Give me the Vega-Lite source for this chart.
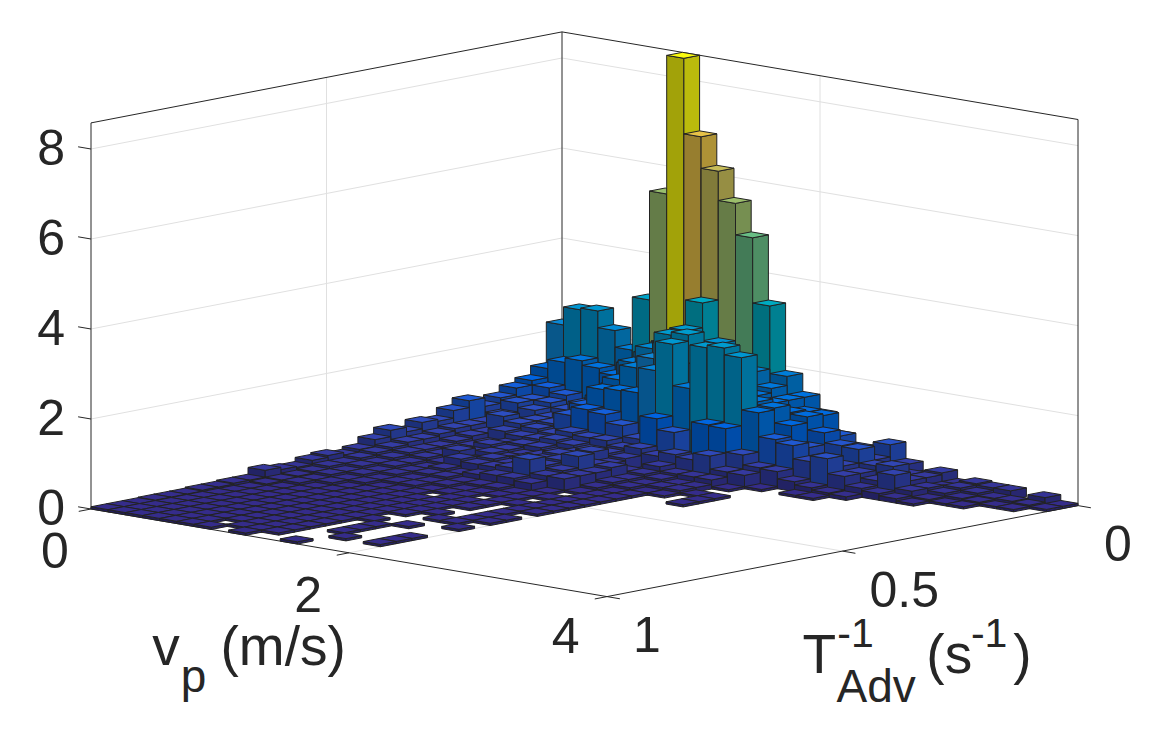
{
  "$schema": "https://vega.github.io/schema/vega-lite/v6.json",
  "width": 1153,
  "height": 731,
  "padding": 0,
  "autosize": "none",
  "background": "white",
  "config": {"view": {"stroke": null}},
  "layer": [
    {
      "data": {"values": [
        {"vp":0,"T":1,"z":0,"vp2":0,"T2":0,"z2":0},{"vp":0,"T":0,"z":0,"vp2":4,"T2":0,"z2":0},
        {"vp":0,"T":1,"z":2,"vp2":0,"T2":0,"z2":2},{"vp":0,"T":0,"z":2,"vp2":4,"T2":0,"z2":2},
        {"vp":0,"T":1,"z":4,"vp2":0,"T2":0,"z2":4},{"vp":0,"T":0,"z":4,"vp2":4,"T2":0,"z2":4},
        {"vp":0,"T":1,"z":6,"vp2":0,"T2":0,"z2":6},{"vp":0,"T":0,"z":6,"vp2":4,"T2":0,"z2":6},
        {"vp":0,"T":1,"z":8,"vp2":0,"T2":0,"z2":8},{"vp":0,"T":0,"z":8,"vp2":4,"T2":0,"z2":8},
        {"vp":0,"T":0.5,"z":0,"vp2":0,"T2":0.5,"z2":8.58},{"vp":2,"T":0,"z":0,"vp2":2,"T2":0,"z2":8.58},
        {"vp":2,"T":0,"z":0,"vp2":2,"T2":1,"z2":0},{"vp":0,"T":0.5,"z":0,"vp2":4,"T2":0.5,"z2":0}
      ]},
      "transform": [
        {"calculate": "562+129*datum.vp-471*datum.T", "as": "sx"},
        {"calculate": "418+21.9*datum.vp+91*datum.T-45*datum.z", "as": "sy"},
        {"calculate": "562+129*datum.vp2-471*datum.T2", "as": "sx2"},
        {"calculate": "418+21.9*datum.vp2+91*datum.T2-45*datum.z2", "as": "sy2"}
      ],
      "mark": {"type": "rule", "color": "#e0e0e0", "strokeWidth": 1},
      "encoding": {
        "x": {"field": "sx", "type": "quantitative", "scale": {"domain": [0, 1153], "nice": false}, "axis": null},
        "y": {"field": "sy", "type": "quantitative", "scale": {"domain": [731, 0], "nice": false}, "axis": null},
        "x2": {"field": "sx2"},
        "y2": {"field": "sy2"}
      }
    },
    {
      "data": {"values": [
        {"vp":0,"T":1,"z":8.58,"vp2":0,"T2":0,"z2":8.58},{"vp":0,"T":0,"z":8.58,"vp2":4,"T2":0,"z2":8.58},
        {"vp":0,"T":1,"z":0,"vp2":0,"T2":1,"z2":8.58},{"vp":0,"T":0,"z":0,"vp2":0,"T2":0,"z2":8.58},{"vp":4,"T":0,"z":0,"vp2":4,"T2":0,"z2":8.58},
        {"vp":0,"T":1,"z":0,"vp2":4,"T2":1,"z2":0},{"vp":4,"T":1,"z":0,"vp2":4,"T2":0,"z2":0},
        {"vp":-0.1,"T":1,"z":0,"vp2":0,"T2":1,"z2":0},{"vp":-0.1,"T":1,"z":2,"vp2":0,"T2":1,"z2":2},{"vp":-0.1,"T":1,"z":4,"vp2":0,"T2":1,"z2":4},{"vp":-0.1,"T":1,"z":6,"vp2":0,"T2":1,"z2":6},{"vp":-0.1,"T":1,"z":8,"vp2":0,"T2":1,"z2":8},
        {"vp":0,"T":1,"z":0,"vp2":0,"T2":1.026,"z2":0},{"vp":2,"T":1,"z":0,"vp2":2,"T2":1.026,"z2":0},{"vp":4,"T":1,"z":0,"vp2":4,"T2":1.026,"z2":0},
        {"vp":4,"T":1,"z":0,"vp2":4.1,"T2":1,"z2":0},{"vp":4,"T":0.5,"z":0,"vp2":4.1,"T2":0.5,"z2":0},{"vp":4,"T":0,"z":0,"vp2":4.1,"T2":0,"z2":0}
      ]},
      "transform": [
        {"calculate": "562+129*datum.vp-471*datum.T", "as": "sx"},
        {"calculate": "418+21.9*datum.vp+91*datum.T-45*datum.z", "as": "sy"},
        {"calculate": "562+129*datum.vp2-471*datum.T2", "as": "sx2"},
        {"calculate": "418+21.9*datum.vp2+91*datum.T2-45*datum.z2", "as": "sy2"}
      ],
      "mark": {"type": "rule", "color": "#262626", "strokeWidth": 1},
      "encoding": {
        "x": {"field": "sx", "type": "quantitative"},
        "y": {"field": "sy", "type": "quantitative"},
        "x2": {"field": "sx2"},
        "y2": {"field": "sy2"}
      }
    },
    {
      "data": {"values": [
        {"i":0,"j":0,"h":2.2},{"i":1,"j":0,"h":2.6},{"i":2,"j":0,"h":2.64},{"i":3,"j":0,"h":2.27},{"i":4,"j":0,"h":1.9},{"i":5,"j":0,"h":3.08},{"i":6,"j":0,"h":5.5},{"i":7,"j":0,"h":8.58},{"i":8,"j":0,"h":6.9},{"i":9,"j":0,"h":6.2},{"i":10,"j":0,"h":5.55},{"i":11,"j":0,"h":4.85},{"i":12,"j":0,"h":3.4},{"i":13,"j":0,"h":1.9},{"i":14,"j":0,"h":1.5},{"i":15,"j":0,"h":1.18},{"i":16,"j":0,"h":0.77},{"i":17,"j":0,"h":0.5},{"i":18,"j":0,"h":0.4},{"i":19,"j":0,"h":0.77},{"i":20,"j":0,"h":0.4},{"i":21,"j":0,"h":0.2},{"i":22,"j":0,"h":0.34},{"i":23,"j":0,"h":0.15},{"i":24,"j":0,"h":0.23},{"i":25,"j":0,"h":0.2},{"i":26,"j":0,"h":0.2},{"i":28,"j":0,"h":0.18},{"i":29,"j":0,"h":0.05},
        {"i":0,"j":1,"h":1.3},{"i":1,"j":1,"h":1.5},{"i":2,"j":1,"h":1.6},{"i":3,"j":1,"h":1.5},{"i":4,"j":1,"h":1.4},{"i":5,"j":1,"h":1.7},{"i":6,"j":1,"h":2.0},{"i":7,"j":1,"h":2.3},{"i":8,"j":1,"h":2.6},{"i":9,"j":1,"h":3.34},{"i":10,"j":1,"h":2.5},{"i":11,"j":1,"h":2.2},{"i":12,"j":1,"h":2.0},{"i":13,"j":1,"h":1.7},{"i":14,"j":1,"h":1.5},{"i":15,"j":1,"h":1.3},{"i":16,"j":1,"h":1.29},{"i":17,"j":1,"h":0.9},{"i":18,"j":1,"h":0.7},{"i":19,"j":1,"h":0.5},{"i":20,"j":1,"h":0.4},{"i":21,"j":1,"h":0.3},{"i":22,"j":1,"h":0.3},{"i":23,"j":1,"h":0.15},{"i":24,"j":1,"h":0.2},{"i":25,"j":1,"h":0.15},{"i":26,"j":1,"h":0.1},{"i":27,"j":1,"h":0.1},{"i":28,"j":1,"h":0.08},{"i":29,"j":1,"h":0.05},
        {"i":0,"j":2,"h":1.1},{"i":1,"j":2,"h":1.0},{"i":2,"j":2,"h":0.9},{"i":3,"j":2,"h":0.7},{"i":4,"j":2,"h":0.9},{"i":5,"j":2,"h":1.3},{"i":6,"j":2,"h":1.88},{"i":7,"j":2,"h":2.26},{"i":8,"j":2,"h":2.4},{"i":9,"j":2,"h":2.79},{"i":10,"j":2,"h":2.3},{"i":11,"j":2,"h":2.0},{"i":12,"j":2,"h":1.9},{"i":13,"j":2,"h":1.6},{"i":14,"j":2,"h":1.5},{"i":15,"j":2,"h":1.36},{"i":16,"j":2,"h":1.33},{"i":17,"j":2,"h":1.04},{"i":18,"j":2,"h":0.82},{"i":19,"j":2,"h":0.8},{"i":20,"j":2,"h":0.5},{"i":21,"j":2,"h":0.55},{"i":22,"j":2,"h":0.3},{"i":23,"j":2,"h":0.2},{"i":24,"j":2,"h":0.15},{"i":25,"j":2,"h":0.1},{"i":26,"j":2,"h":0.08},{"i":27,"j":2,"h":0.05},{"i":28,"j":2,"h":0.05},
        {"i":0,"j":3,"h":1.0},{"i":1,"j":3,"h":0.8},{"i":2,"j":3,"h":0.8},{"i":3,"j":3,"h":0.7},{"i":4,"j":3,"h":0.9},{"i":5,"j":3,"h":1.1},{"i":6,"j":3,"h":1.57},{"i":7,"j":3,"h":1.9},{"i":8,"j":3,"h":2.17},{"i":9,"j":3,"h":2.76},{"i":10,"j":3,"h":2.83},{"i":11,"j":3,"h":2.2},{"i":12,"j":3,"h":2.0},{"i":13,"j":3,"h":1.8},{"i":14,"j":3,"h":1.6},{"i":15,"j":3,"h":1.53},{"i":16,"j":3,"h":1.2},{"i":17,"j":3,"h":0.78},{"i":18,"j":3,"h":0.6},{"i":19,"j":3,"h":0.5},{"i":20,"j":3,"h":0.4},{"i":21,"j":3,"h":0.3},{"i":22,"j":3,"h":0.49},{"i":23,"j":3,"h":0.2},{"i":24,"j":3,"h":0.08},{"i":25,"j":3,"h":0.05},{"i":26,"j":3,"h":0.05},
        {"i":0,"j":4,"h":0.85},{"i":1,"j":4,"h":0.8},{"i":2,"j":4,"h":0.7},{"i":3,"j":4,"h":0.6},{"i":4,"j":4,"h":0.7},{"i":5,"j":4,"h":1.0},{"i":6,"j":4,"h":1.42},{"i":7,"j":4,"h":1.46},{"i":8,"j":4,"h":1.48},{"i":9,"j":4,"h":2.04},{"i":10,"j":4,"h":2.69},{"i":11,"j":4,"h":1.77},{"i":12,"j":4,"h":2.74},{"i":13,"j":4,"h":2.8},{"i":14,"j":4,"h":2.65},{"i":15,"j":4,"h":1.49},{"i":16,"j":4,"h":0.96},{"i":17,"j":4,"h":0.89},{"i":18,"j":4,"h":0.6},{"i":19,"j":4,"h":0.73},{"i":20,"j":4,"h":0.4},{"i":21,"j":4,"h":0.2},{"i":22,"j":4,"h":0.15},{"i":23,"j":4,"h":0.1},{"i":24,"j":4,"h":0.05},
        {"i":0,"j":5,"h":0.73},{"i":1,"j":5,"h":0.6},{"i":2,"j":5,"h":0.5},{"i":3,"j":5,"h":0.6},{"i":4,"j":5,"h":0.6},{"i":5,"j":5,"h":0.85},{"i":6,"j":5,"h":1.04},{"i":7,"j":5,"h":1.0},{"i":8,"j":5,"h":0.82},{"i":9,"j":5,"h":0.58},{"i":10,"j":5,"h":1.1},{"i":11,"j":5,"h":0.86},{"i":12,"j":5,"h":0.37},{"i":13,"j":5,"h":1.16},{"i":14,"j":5,"h":1.14},{"i":15,"j":5,"h":0.62},{"i":16,"j":5,"h":0.4},{"i":17,"j":5,"h":0.38},{"i":18,"j":5,"h":0.22},{"i":19,"j":5,"h":0.15},{"i":20,"j":5,"h":0.1},{"i":21,"j":5,"h":0.08},
        {"i":0,"j":6,"h":0.92},{"i":1,"j":6,"h":0.5},{"i":2,"j":6,"h":0.7},{"i":3,"j":6,"h":0.6},{"i":4,"j":6,"h":0.55},{"i":5,"j":6,"h":0.5},{"i":6,"j":6,"h":0.6},{"i":7,"j":6,"h":0.55},{"i":8,"j":6,"h":0.55},{"i":9,"j":6,"h":0.45},{"i":10,"j":6,"h":0.5},{"i":11,"j":6,"h":0.4},{"i":12,"j":6,"h":0.5},{"i":13,"j":6,"h":0.45},{"i":14,"j":6,"h":0.6},{"i":15,"j":6,"h":0.31},{"i":16,"j":6,"h":0.3},{"i":17,"j":6,"h":0.05},{"i":19,"j":6,"h":0.05},{"i":20,"j":6,"h":0.05},
        {"i":0,"j":7,"h":0.77},{"i":1,"j":7,"h":0.5},{"i":2,"j":7,"h":0.4},{"i":3,"j":7,"h":0.5},{"i":4,"j":7,"h":0.45},{"i":5,"j":7,"h":0.45},{"i":6,"j":7,"h":0.5},{"i":7,"j":7,"h":0.45},{"i":8,"j":7,"h":0.4},{"i":9,"j":7,"h":0.4},{"i":10,"j":7,"h":0.35},{"i":11,"j":7,"h":0.1},{"i":12,"j":7,"h":0.3},{"i":13,"j":7,"h":0.2},{"i":14,"j":7,"h":0.2},{"i":15,"j":7,"h":0.2},{"i":16,"j":7,"h":0.05},
        {"i":0,"j":8,"h":0.6},{"i":1,"j":8,"h":0.5},{"i":2,"j":8,"h":0.4},{"i":3,"j":8,"h":0.3},{"i":4,"j":8,"h":0.35},{"i":5,"j":8,"h":0.4},{"i":6,"j":8,"h":0.4},{"i":7,"j":8,"h":0.35},{"i":8,"j":8,"h":0.4},{"i":9,"j":8,"h":0.5},{"i":10,"j":8,"h":0.3},{"i":11,"j":8,"h":0.2},{"i":12,"j":8,"h":0.2},{"i":13,"j":8,"h":0.15},{"i":14,"j":8,"h":0.1},{"i":15,"j":8,"h":0.1},
        {"i":0,"j":9,"h":0.64},{"i":1,"j":9,"h":0.45},{"i":2,"j":9,"h":0.35},{"i":3,"j":9,"h":0.3},{"i":4,"j":9,"h":0.4},{"i":5,"j":9,"h":0.35},{"i":6,"j":9,"h":0.3},{"i":7,"j":9,"h":0.35},{"i":8,"j":9,"h":0.45},{"i":9,"j":9,"h":0.35},{"i":10,"j":9,"h":0.35},{"i":11,"j":9,"h":0.35},{"i":12,"j":9,"h":0.15},{"i":13,"j":9,"h":0.1},{"i":14,"j":9,"h":0.1},{"i":15,"j":9,"h":0.1},{"i":16,"j":9,"h":0.05},{"i":17,"j":9,"h":0.05},
        {"i":0,"j":10,"h":0.5},{"i":1,"j":10,"h":0.4},{"i":2,"j":10,"h":0.3},{"i":3,"j":10,"h":0.3},{"i":4,"j":10,"h":0.3},{"i":5,"j":10,"h":0.35},{"i":6,"j":10,"h":0.3},{"i":7,"j":10,"h":0.35},{"i":8,"j":10,"h":0.4},{"i":9,"j":10,"h":0.45},{"i":10,"j":10,"h":0.6},{"i":11,"j":10,"h":0.3},{"i":12,"j":10,"h":0.15},{"i":13,"j":10,"h":0.1},{"i":14,"j":10,"h":0.05},{"i":15,"j":10,"h":0.05},{"i":17,"j":10,"h":0.05},
        {"i":0,"j":11,"h":0.6},{"i":1,"j":11,"h":0.4},{"i":2,"j":11,"h":0.3},{"i":3,"j":11,"h":0.25},{"i":4,"j":11,"h":0.4},{"i":5,"j":11,"h":0.25},{"i":6,"j":11,"h":0.35},{"i":7,"j":11,"h":0.3},{"i":8,"j":11,"h":0.35},{"i":9,"j":11,"h":0.4},{"i":10,"j":11,"h":0.35},{"i":11,"j":11,"h":0.3},{"i":12,"j":11,"h":0.1},{"i":13,"j":11,"h":0.05},{"i":14,"j":11,"h":0.05},{"i":17,"j":11,"h":0.05},
        {"i":0,"j":12,"h":0.46},{"i":1,"j":12,"h":0.35},{"i":2,"j":12,"h":0.3},{"i":3,"j":12,"h":0.25},{"i":4,"j":12,"h":0.2},{"i":5,"j":12,"h":0.35},{"i":6,"j":12,"h":0.3},{"i":7,"j":12,"h":0.3},{"i":8,"j":12,"h":0.35},{"i":9,"j":12,"h":0.6},{"i":10,"j":12,"h":0.3},{"i":11,"j":12,"h":0.3},{"i":12,"j":12,"h":0.05},{"i":13,"j":12,"h":0.05},{"i":14,"j":12,"h":0.05},
        {"i":0,"j":13,"h":0.31},{"i":1,"j":13,"h":0.3},{"i":2,"j":13,"h":0.25},{"i":3,"j":13,"h":0.2},{"i":4,"j":13,"h":0.15},{"i":5,"j":13,"h":0.2},{"i":6,"j":13,"h":0.15},{"i":7,"j":13,"h":0.2},{"i":8,"j":13,"h":0.25},{"i":9,"j":13,"h":0.25},{"i":10,"j":13,"h":0.2},{"i":11,"j":13,"h":0.05},{"i":13,"j":13,"h":0.05},{"i":14,"j":13,"h":0.05},
        {"i":0,"j":14,"h":0.25},{"i":1,"j":14,"h":0.25},{"i":2,"j":14,"h":0.2},{"i":3,"j":14,"h":0.2},{"i":4,"j":14,"h":0.15},{"i":5,"j":14,"h":0.15},{"i":6,"j":14,"h":0.15},{"i":7,"j":14,"h":0.1},{"i":8,"j":14,"h":0.1},{"i":9,"j":14,"h":0.1},{"i":10,"j":14,"h":0.05},{"i":11,"j":14,"h":0.05},{"i":12,"j":14,"h":0.05},{"i":13,"j":14,"h":0.05},{"i":14,"j":14,"h":0.05},
        {"i":0,"j":15,"h":0.31},{"i":1,"j":15,"h":0.2},{"i":2,"j":15,"h":0.2},{"i":3,"j":15,"h":0.15},{"i":4,"j":15,"h":0.15},{"i":5,"j":15,"h":0.1},{"i":6,"j":15,"h":0.1},{"i":7,"j":15,"h":0.1},{"i":8,"j":15,"h":0.05},{"i":9,"j":15,"h":0.05},{"i":10,"j":15,"h":0.05},{"i":11,"j":15,"h":0.05},{"i":13,"j":15,"h":0.05},{"i":14,"j":15,"h":0.05},
        {"i":0,"j":16,"h":0.27},{"i":1,"j":16,"h":0.2},{"i":2,"j":16,"h":0.15},{"i":3,"j":16,"h":0.15},{"i":4,"j":16,"h":0.1},{"i":5,"j":16,"h":0.1},{"i":6,"j":16,"h":0.1},{"i":7,"j":16,"h":0.05},{"i":8,"j":16,"h":0.05},{"i":9,"j":16,"h":0.05},{"i":11,"j":16,"h":0.05},{"i":12,"j":16,"h":0.05},{"i":13,"j":16,"h":0.05},{"i":14,"j":16,"h":0.05},
        {"i":0,"j":17,"h":0.18},{"i":1,"j":17,"h":0.15},{"i":2,"j":17,"h":0.15},{"i":3,"j":17,"h":0.1},{"i":4,"j":17,"h":0.1},{"i":5,"j":17,"h":0.05},{"i":6,"j":17,"h":0.05},{"i":7,"j":17,"h":0.05},{"i":9,"j":17,"h":0.05},{"i":10,"j":17,"h":0.05},{"i":11,"j":17,"h":0.05},{"i":13,"j":17,"h":0.05},{"i":14,"j":17,"h":0.05},
        {"i":0,"j":18,"h":0.2},{"i":1,"j":18,"h":0.12},{"i":2,"j":18,"h":0.1},{"i":3,"j":18,"h":0.1},{"i":4,"j":18,"h":0.05},{"i":5,"j":18,"h":0.05},{"i":6,"j":18,"h":0.05},{"i":7,"j":18,"h":0.05},{"i":8,"j":18,"h":0.05},{"i":9,"j":18,"h":0.05},{"i":10,"j":18,"h":0.05},{"i":11,"j":18,"h":0.05},{"i":13,"j":18,"h":0.05},
        {"i":0,"j":19,"h":0.25},{"i":1,"j":19,"h":0.1},{"i":2,"j":19,"h":0.1},{"i":3,"j":19,"h":0.05},{"i":4,"j":19,"h":0.05},{"i":5,"j":19,"h":0.05},{"i":6,"j":19,"h":0.05},{"i":7,"j":19,"h":0.05},{"i":8,"j":19,"h":0.05},{"i":9,"j":19,"h":0.05},{"i":10,"j":19,"h":0.05},{"i":13,"j":19,"h":0.05},{"i":14,"j":19,"h":0.05},
        {"i":0,"j":20,"h":0.1},{"i":1,"j":20,"h":0.08},{"i":2,"j":20,"h":0.05},{"i":3,"j":20,"h":0.05},{"i":4,"j":20,"h":0.05},{"i":5,"j":20,"h":0.05},{"i":6,"j":20,"h":0.05},{"i":7,"j":20,"h":0.05},{"i":8,"j":20,"h":0.05},{"i":9,"j":20,"h":0.05},{"i":10,"j":20,"h":0.05},{"i":11,"j":20,"h":0.05},{"i":13,"j":20,"h":0.05},{"i":14,"j":20,"h":0.05},
        {"i":0,"j":21,"h":0.1},{"i":1,"j":21,"h":0.05},{"i":2,"j":21,"h":0.05},{"i":3,"j":21,"h":0.05},{"i":4,"j":21,"h":0.05},{"i":5,"j":21,"h":0.05},{"i":6,"j":21,"h":0.05},{"i":7,"j":21,"h":0.05},{"i":8,"j":21,"h":0.05},{"i":9,"j":21,"h":0.05},{"i":10,"j":21,"h":0.05},{"i":12,"j":21,"h":0.05},{"i":13,"j":21,"h":0.05},
        {"i":0,"j":22,"h":0.08},{"i":1,"j":22,"h":0.05},{"i":2,"j":22,"h":0.05},{"i":3,"j":22,"h":0.05},{"i":4,"j":22,"h":0.05},{"i":5,"j":22,"h":0.05},{"i":6,"j":22,"h":0.05},{"i":7,"j":22,"h":0.05},{"i":8,"j":22,"h":0.05},{"i":9,"j":22,"h":0.05},{"i":14,"j":22,"h":0.05},
        {"i":0,"j":23,"h":0.08},{"i":1,"j":23,"h":0.05},{"i":2,"j":23,"h":0.05},{"i":3,"j":23,"h":0.05},{"i":4,"j":23,"h":0.05},{"i":5,"j":23,"h":0.05},{"i":6,"j":23,"h":0.05},{"i":7,"j":23,"h":0.05},{"i":8,"j":23,"h":0.05},{"i":9,"j":23,"h":0.05},{"i":10,"j":23,"h":0.05},{"i":12,"j":23,"h":0.05},
        {"i":0,"j":24,"h":0.06},{"i":1,"j":24,"h":0.05},{"i":2,"j":24,"h":0.05},{"i":3,"j":24,"h":0.05},{"i":4,"j":24,"h":0.05},{"i":5,"j":24,"h":0.05},{"i":6,"j":24,"h":0.05},{"i":7,"j":24,"h":0.05},{"i":8,"j":24,"h":0.05},{"i":9,"j":24,"h":0.05},{"i":11,"j":24,"h":0.05},
        {"i":0,"j":25,"h":0.06},{"i":1,"j":25,"h":0.05},{"i":2,"j":25,"h":0.05},{"i":3,"j":25,"h":0.05},{"i":4,"j":25,"h":0.05},{"i":5,"j":25,"h":0.05},{"i":6,"j":25,"h":0.05},{"i":7,"j":25,"h":0.05},{"i":8,"j":25,"h":0.05},{"i":9,"j":25,"h":0.05},{"i":11,"j":25,"h":0.05},{"i":14,"j":25,"h":0.05},
        {"i":0,"j":26,"h":0.06},{"i":1,"j":26,"h":0.05},{"i":2,"j":26,"h":0.05},{"i":3,"j":26,"h":0.05},{"i":4,"j":26,"h":0.05},{"i":5,"j":26,"h":0.05},{"i":6,"j":26,"h":0.05},{"i":7,"j":26,"h":0.05},{"i":8,"j":26,"h":0.05},{"i":9,"j":26,"h":0.05},{"i":11,"j":26,"h":0.05},{"i":14,"j":26,"h":0.05},
        {"i":0,"j":27,"h":0.05},{"i":1,"j":27,"h":0.05},{"i":2,"j":27,"h":0.05},{"i":3,"j":27,"h":0.05},{"i":4,"j":27,"h":0.05},{"i":5,"j":27,"h":0.05},{"i":6,"j":27,"h":0.05},{"i":7,"j":27,"h":0.05},{"i":8,"j":27,"h":0.05},{"i":9,"j":27,"h":0.05},{"i":12,"j":27,"h":0.05},{"i":14,"j":27,"h":0.05},
        {"i":0,"j":28,"h":0.05},{"i":1,"j":28,"h":0.05},{"i":2,"j":28,"h":0.05},{"i":3,"j":28,"h":0.05},{"i":4,"j":28,"h":0.05},{"i":5,"j":28,"h":0.05},{"i":7,"j":28,"h":0.05},{"i":8,"j":28,"h":0.05},{"i":9,"j":28,"h":0.05},
        {"i":0,"j":29,"h":0.05},{"i":1,"j":29,"h":0.05},{"i":2,"j":29,"h":0.05},{"i":3,"j":29,"h":0.05},{"i":4,"j":29,"h":0.05},{"i":5,"j":29,"h":0.05},{"i":6,"j":29,"h":0.05},{"i":8,"j":29,"h":0.05},{"i":11,"j":29,"h":0.05}
      ]},
      "transform": [
        {"calculate": "[0,1,2]", "as": "face"},
        {"flatten": ["face"]},
        {"calculate": "[0,1,2,3,4]", "as": "k"},
        {"flatten": ["k"]},
        {"calculate": "datum.face==1 ? 1 : [0,1,1,0,0][datum.k]", "as": "du"},
        {"calculate": "datum.face==0 ? 1 : datum.face==1 ? [1,0,0,1,1][datum.k] : [0,0,1,1,0][datum.k]", "as": "dv"},
        {"calculate": "datum.face==2 ? 1 : [0,0,1,1,0][datum.k]", "as": "dz"},
        {"calculate": "562+129*(datum.i+datum.du)/7.5-471*(datum.j+datum.dv)/30", "as": "sx"},
        {"calculate": "418+21.9*(datum.i+datum.du)/7.5+91*(datum.j+datum.dv)/30-45*datum.h*datum.dz", "as": "sy"},
        {"calculate": "datum.j*100+datum.i+'_'+datum.face", "as": "poly"},
        {"calculate": "datum.h+10*datum.face", "as": "shade"}
      ],
      "mark": {"type": "line", "stroke": "#222222", "strokeWidth": 1, "strokeJoin": "round"},
      "encoding": {
        "x": {"field": "sx", "type": "quantitative"},
        "y": {"field": "sy", "type": "quantitative"},
        "detail": {"field": "poly"},
        "order": {"field": "k"},
        "fill": {
          "field": "shade",
          "type": "quantitative",
          "legend": null,
          "scale": {
            "type": "linear",
            "domain": [0,1.075,2.15,3.225,4.3,5.375,6.45,7.525,8.6,10,11.075,12.15,13.225,14.3,15.375,16.45,17.525,18.6,20,21.075,22.15,23.225,24.3,25.375,26.45,27.525,28.6],
            "range": ["#221b58","#024092","#0d568a","#046d81","#247867","#5f7c4b","#8d7938","#a4861e","#a2a309","#282065","#024aa9","#0f649f","#057d95","#2a8b77","#6e8f56","#a38c41","#bd9b23","#bbbc0b","#352a87","#0363e1","#1485d4","#06a7c6","#38b99e","#92bf73","#d9ba56","#fcce2e","#f9fb0e"]
          }
        }
      }
    },
    {
      "data": {"values": [
        {"vp":0.18,"T":1.134,"z":0,"label":"0"},{"vp":0.18,"T":1.134,"z":2,"label":"2"},{"vp":0.18,"T":1.134,"z":4,"label":"4"},{"vp":0.18,"T":1.134,"z":6,"label":"6"},{"vp":0.18,"T":1.134,"z":8,"label":"8"},
        {"vp":1.115,"T":1.382,"z":0,"label":"0"},{"vp":3.1,"T":1.388,"z":0,"label":"2"},{"vp":5.03,"T":1.37,"z":0,"label":"4"},
        {"vp":5.35,"T":1.285,"z":0,"label":"1"},{"vp":5.45,"T":0.766,"z":0,"label":"0.5"},{"vp":5.35,"T":0.285,"z":0,"label":"0"}
      ]},
      "transform": [
        {"calculate": "562+129*datum.vp-471*datum.T", "as": "sx"},
        {"calculate": "418+21.9*datum.vp+91*datum.T-45*datum.z", "as": "sy"}
      ],
      "mark": {"type": "text", "font": "Liberation Sans", "fontSize": 50, "align": "center", "baseline": "alphabetic", "color": "#262626"},
      "encoding": {
        "x": {"field": "sx", "type": "quantitative"},
        "y": {"field": "sy", "type": "quantitative"},
        "text": {"field": "label"}
      }
    },
    {
      "data": {"values": [
        {"vp":3.59,"T":1.853,"z":0,"label":"v"},{"vp":3.87,"T":1.785,"z":0,"label":"(m/s)"},
        {"vp":6.44,"T":1.253,"z":0,"label":"T"},{"vp":6.95,"T":1.13,"z":0,"label":"(s"},{"vp":7.31,"T":1.044,"z":0,"label":")"}
      ]},
      "transform": [
        {"calculate": "562+129*datum.vp-471*datum.T", "as": "sx"},
        {"calculate": "418+21.9*datum.vp+91*datum.T-45*datum.z", "as": "sy"}
      ],
      "mark": {"type": "text", "font": "Liberation Sans", "fontSize": 55, "align": "left", "baseline": "alphabetic", "color": "#262626"},
      "encoding": {
        "x": {"field": "sx", "type": "quantitative"},
        "y": {"field": "sy", "type": "quantitative"},
        "text": {"field": "label"}
      }
    },
    {
      "data": {"values": [
        {"vp":4.27,"T":1.979,"z":0,"label":"p"},{"vp":7.2,"T":1.389,"z":0,"label":"Adv"}
      ]},
      "transform": [
        {"calculate": "562+129*datum.vp-471*datum.T", "as": "sx"},
        {"calculate": "418+21.9*datum.vp+91*datum.T-45*datum.z", "as": "sy"}
      ],
      "mark": {"type": "text", "font": "Liberation Sans", "fontSize": 46, "align": "left", "baseline": "alphabetic", "color": "#262626"},
      "encoding": {
        "x": {"field": "sx", "type": "quantitative"},
        "y": {"field": "sy", "type": "quantitative"},
        "text": {"field": "label"}
      }
    },
    {
      "data": {"values": [
        {"vp":6.03,"T":1.067,"z":0,"label":"-1"},{"vp":6.58,"T":0.934,"z":0,"label":"-1"}
      ]},
      "transform": [
        {"calculate": "562+129*datum.vp-471*datum.T", "as": "sx"},
        {"calculate": "418+21.9*datum.vp+91*datum.T-45*datum.z", "as": "sy"}
      ],
      "mark": {"type": "text", "font": "Liberation Sans", "fontSize": 41, "align": "left", "baseline": "alphabetic", "color": "#262626"},
      "encoding": {
        "x": {"field": "sx", "type": "quantitative"},
        "y": {"field": "sy", "type": "quantitative"},
        "text": {"field": "label"}
      }
    }
  ]
}
